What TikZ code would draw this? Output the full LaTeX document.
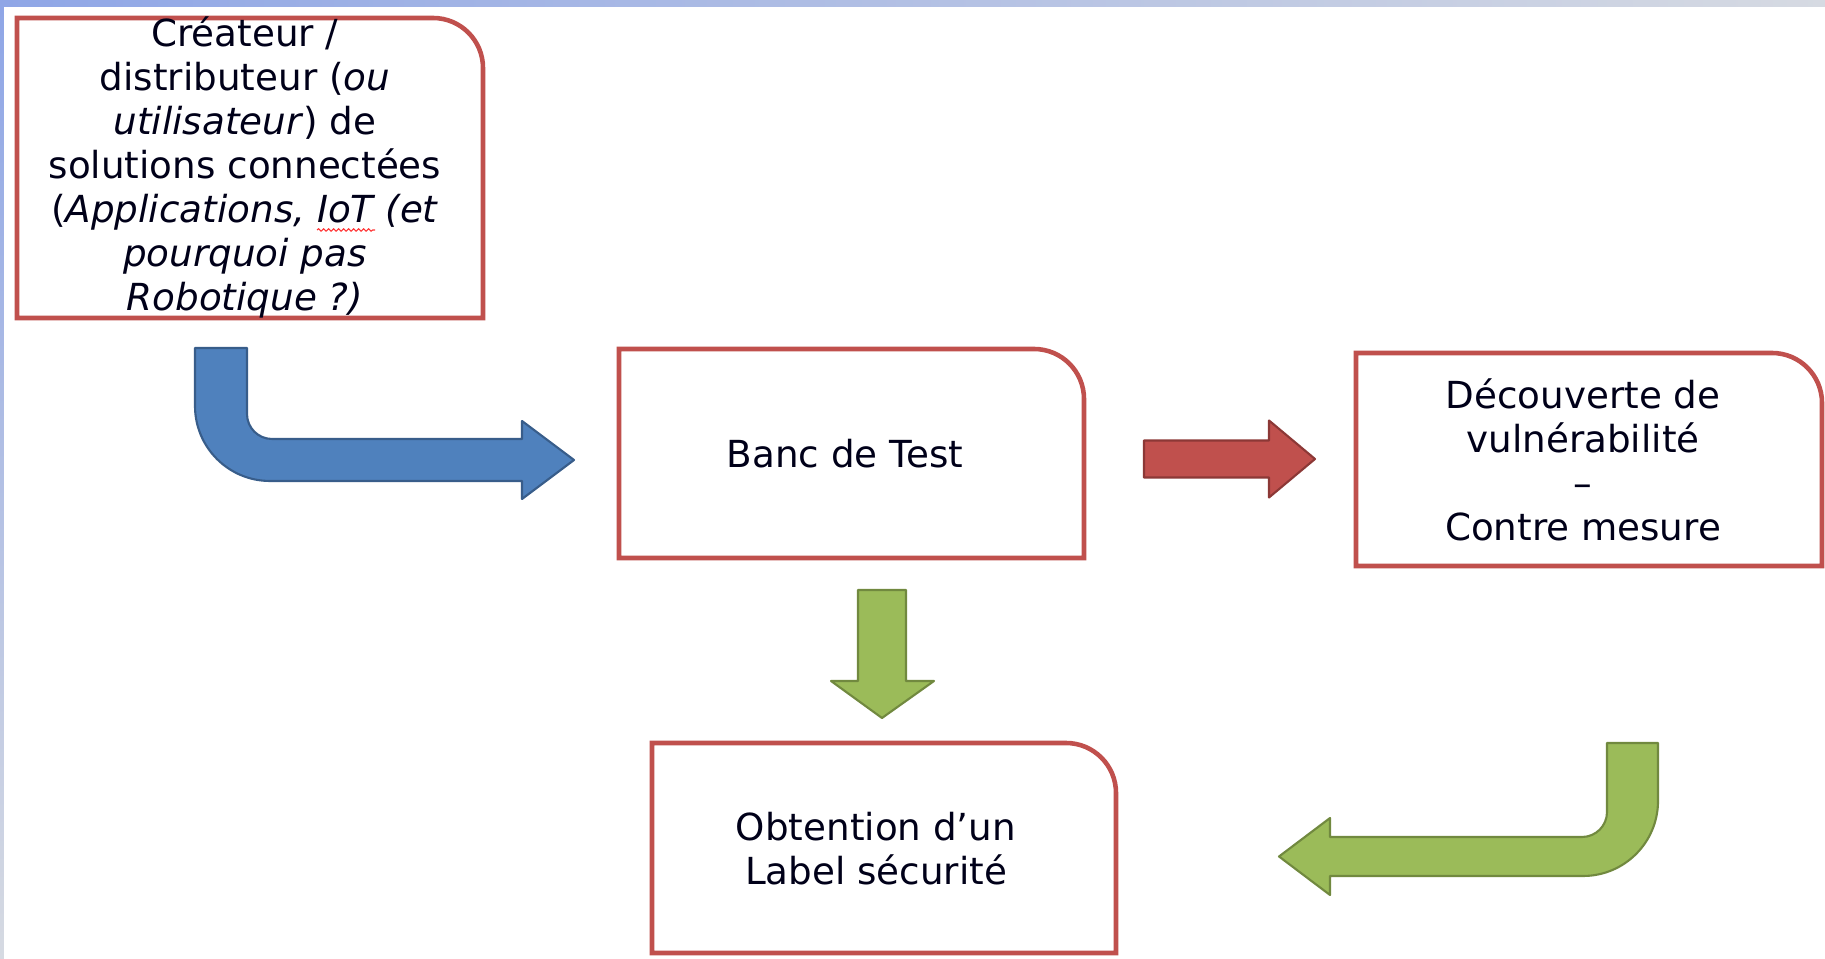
\documentclass[tikz,border=0pt]{standalone}
\usepackage{fontspec}
\setmainfont{DejaVu Sans}
\usepackage{tikz}
\usetikzlibrary{decorations.pathmorphing}
\definecolor{boxred}{HTML}{C0504D}
\definecolor{blockblue}{HTML}{4F81BD}
\definecolor{blockblueline}{HTML}{385D8A}
\definecolor{blockred}{HTML}{C0504D}
\definecolor{blockredline}{HTML}{8C3836}
\definecolor{blockgreen}{HTML}{9BBB59}
\definecolor{blockgreenline}{HTML}{71893F}
\definecolor{winblue}{HTML}{8FA6E6}
\definecolor{wingray}{HTML}{D6DAE2}

\begin{document}
\begin{tikzpicture}[
  boxline/.style={boxred, line width=1.3pt},
  boxtext/.style={align=center, text=black!90!blue, font=\fontsize{10.6}{12.5}\selectfont},
  bluearrow/.style={fill=blockblue, draw=blockblueline, line width=0.6pt, line join=round},
  redarrow/.style={fill=blockred, draw=blockredline, line width=0.6pt, line join=round},
  greenarrow/.style={fill=blockgreen, draw=blockgreenline, line width=0.6pt, line join=round}
]
\useasboundingbox (0,0) rectangle (18.25,9.59);
\fill[white] (0,0) rectangle (18.25,9.59);
\shade[left color=winblue, right color=wingray] (0,9.52) rectangle (18.25,9.59);
\shade[top color=winblue, bottom color=wingray] (0,0) rectangle (0.04,9.52);

\draw[boxline] (0.17,6.41) -- (0.17,9.41) -- (4.33,9.41) arc[start angle=90, end angle=0, radius=0.5] -- (4.83,6.41) -- cycle;
\draw[boxline] (6.19,4.01) -- (6.19,6.10) -- (10.34,6.10) arc[start angle=90, end angle=0, radius=0.5] -- (10.84,4.01) -- cycle;
\draw[boxline] (13.56,3.93) -- (13.56,6.06) -- (17.72,6.06) arc[start angle=90, end angle=0, radius=0.5] -- (18.22,3.93) -- cycle;
\draw[boxline] (6.52,0.06) -- (6.52,2.16) -- (10.66,2.16) arc[start angle=90, end angle=0, radius=0.5] -- (11.16,0.06) -- cycle;

\node[boxtext] (createur) at (2.45,7.915) {Créateur /\\ distributeur (\textit{ou}\\ \textit{utilisateur}) de\\ solutions connectées\\ (\textit{Applications, IoT (et}\\ \textit{pourquoi pas}\\ \textit{Robotique ?)}};
\node[boxtext] (banc) at (8.45,5.05) {Banc de Test};
\node[boxtext] (decouverte) at (15.83,4.995) {Découverte de\\ vulnérabilité\\ –\\ Contre mesure};
\node[boxtext] (label) at (8.76,1.105) {Obtention d’un\\ Label sécurité};
\draw[red!80, line width=0.3pt, decorate, decoration={snake, amplitude=0.012cm, segment length=0.05cm}] (3.17,7.29) -- (3.75,7.29);

\draw[bluearrow] (1.95,6.11) -- (1.95,5.53) arc[start angle=180, end angle=270, radius=0.75] -- (5.22,4.78) -- (5.22,4.60) -- (5.74,4.99) -- (5.22,5.38) -- (5.22,5.20) -- (2.72,5.20) arc[start angle=270, end angle=180, radius=0.25] -- (2.47,6.11) -- cycle;
\draw[redarrow] (11.44,4.815) -- (12.69,4.815) -- (12.69,4.615) -- (13.15,5.0) -- (12.69,5.385) -- (12.69,5.185) -- (11.44,5.185) -- cycle;
\draw[greenarrow] (8.58,3.69) -- (8.58,2.78) -- (8.31,2.78) -- (8.82,2.41) -- (9.34,2.78) -- (9.06,2.78) -- (9.06,3.69) -- cycle;
\draw[greenarrow] (16.58,2.16) -- (16.58,1.58) arc[start angle=0, end angle=-90, radius=0.75] -- (13.30,0.83) -- (13.30,0.64) -- (12.79,1.025) -- (13.30,1.41) -- (13.30,1.22) -- (15.82,1.22) arc[start angle=270, end angle=360, radius=0.25] -- (16.07,2.16) -- cycle;

\end{tikzpicture}
\end{document}
